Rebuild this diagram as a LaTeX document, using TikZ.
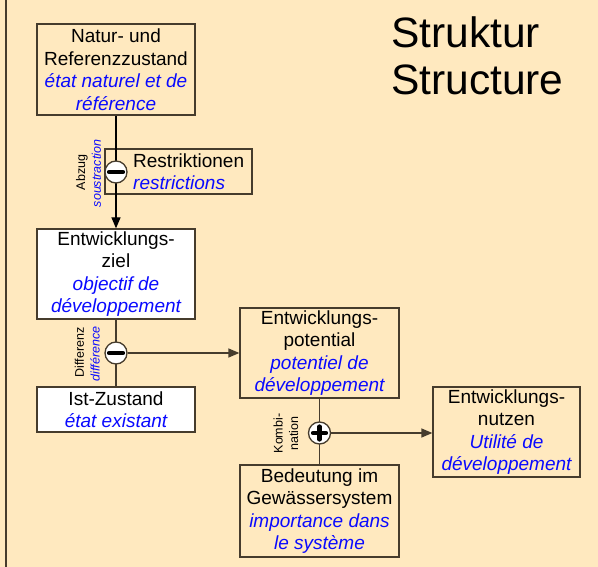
\documentclass[tikz,border=0pt]{standalone}
\usepackage{fontspec}
\setmainfont{Liberation Sans}
\usetikzlibrary{arrows.meta}
\definecolor{bgc}{RGB}{255,233,191}
\definecolor{linec}{RGB}{70,60,45}
\definecolor{frblue}{RGB}{10,10,255}
\newcommand\frtxt[1]{\textcolor{frblue}{\itshape #1}}
\tikzset{
  box/.style={draw=linec, line width=1.3pt, fill=bgc, inner sep=0pt, align=center,
    font=\fontsize{19}{22.5}\selectfont},
  wbox/.style={box, fill=white},
  opc/.style={circle, draw=linec, line width=1.3pt, fill=white, minimum size=22pt, inner sep=0pt},
  conn/.style={draw=linec, line width=1.3pt},
  arr/.style={conn, -{Triangle[length=11pt,width=9pt]}},
  bar/.style={line width=4.2pt, line cap=round, black},
  small/.style={font=\fontsize{12.5}{13}\selectfont, rotate=90, inner sep=0pt, align=center},
  ttl/.style={anchor=base west, inner sep=0pt, font=\fontsize{42.5}{47}\selectfont}
}
\begin{document}
\begin{tikzpicture}[x=1pt,y=-1pt]
\fill[bgc] (0,0) rectangle (598,567);
\useasboundingbox (0,0) rectangle (598,567);
\coordinate (lt) at (5.5,0);
\coordinate (lb) at (5.5,567);
\draw[linec, line width=2pt] (lt) -- (lb);

% title
\node[ttl] (title1) at (391,48) {Struktur};
\node[ttl] (title2) at (391,95) {Structure};

% boxes
\node[box, minimum width=158pt, minimum height=91pt] (natur) at (116,69.5)
  {Natur- und\\Referenzzustand\\\frtxt{état naturel et de}\\\frtxt{référence}};
\node[box, minimum width=147pt, minimum height=45pt] (restr) at (178.5,171.5) {};
\node[anchor=west, align=left, inner sep=0pt, font=\fontsize{19}{22.5}\selectfont] (restrt) at (133,171.5)
  {Restriktionen\\\frtxt{restrictions}};
\node[wbox, minimum width=158pt, minimum height=90pt] (ziel) at (116,274)
  {Entwicklungs-\\ziel\\\frtxt{objectif de}\\\frtxt{développement}};
\node[wbox, minimum width=158pt, minimum height=45pt] (ist) at (116,409.5)
  {Ist-Zustand\\\frtxt{état existant}};
\node[box, minimum width=159pt, minimum height=90pt] (pot) at (319.5,353)
  {Entwicklungs-\\potential\\\frtxt{potentiel de}\\\frtxt{développement}};
\node[box, minimum width=159pt, minimum height=92pt] (bed) at (319.5,511)
  {Bedeutung im\\Gewässersystem\\\frtxt{importance dans}\\\frtxt{le système}};
\node[box, minimum width=147pt, minimum height=90pt] (nutz) at (506.5,432)
  {Entwicklungs-\\nutzen\\\frtxt{Utilité de}\\\frtxt{développement}};

% connectors
\draw[line width=1.3pt, black, -{Triangle[length=11pt,width=9pt]}] (natur.south) -- (ziel.north);
\draw[conn] (ziel.south) -- (ist.north);
\draw[conn] (pot.south) -- (bed.north);

% operators
\node[opc] (m1) at (116,172) {};
\draw[bar] ([xshift=-7pt]m1.center) -- ([xshift=7pt]m1.center);
\node[opc] (m2) at (116,353) {};
\draw[bar] ([xshift=-7pt]m2.center) -- ([xshift=7pt]m2.center);
\node[opc] (p1) at (319.5,433) {};
\draw[bar] ([xshift=-6.5pt]p1.center) -- ([xshift=6.5pt]p1.center);
\draw[bar] ([yshift=-6.5pt]p1.center) -- ([yshift=6.5pt]p1.center);

\draw[arr] (m2.east) -- (pot.west |- m2.east);
\draw[arr] (p1.east) -- (nutz.west |- p1.east);

% operator labels
\node[small] (abz) at (82,172.5) {Abzug};
\node[small, text=frblue] (sous) at (96.5,173.5) {\itshape soustraction};
\node[small] (diff) at (79.5,352.5) {Differenz};
\node[small, text=frblue] (diffr) at (95,354) {\itshape différence};
\node[small, align=center, font=\fontsize{12.5}{15.5}\selectfont] (komb) at (286,433.5) {Kombi-\\nation};
\end{tikzpicture}
\end{document}
